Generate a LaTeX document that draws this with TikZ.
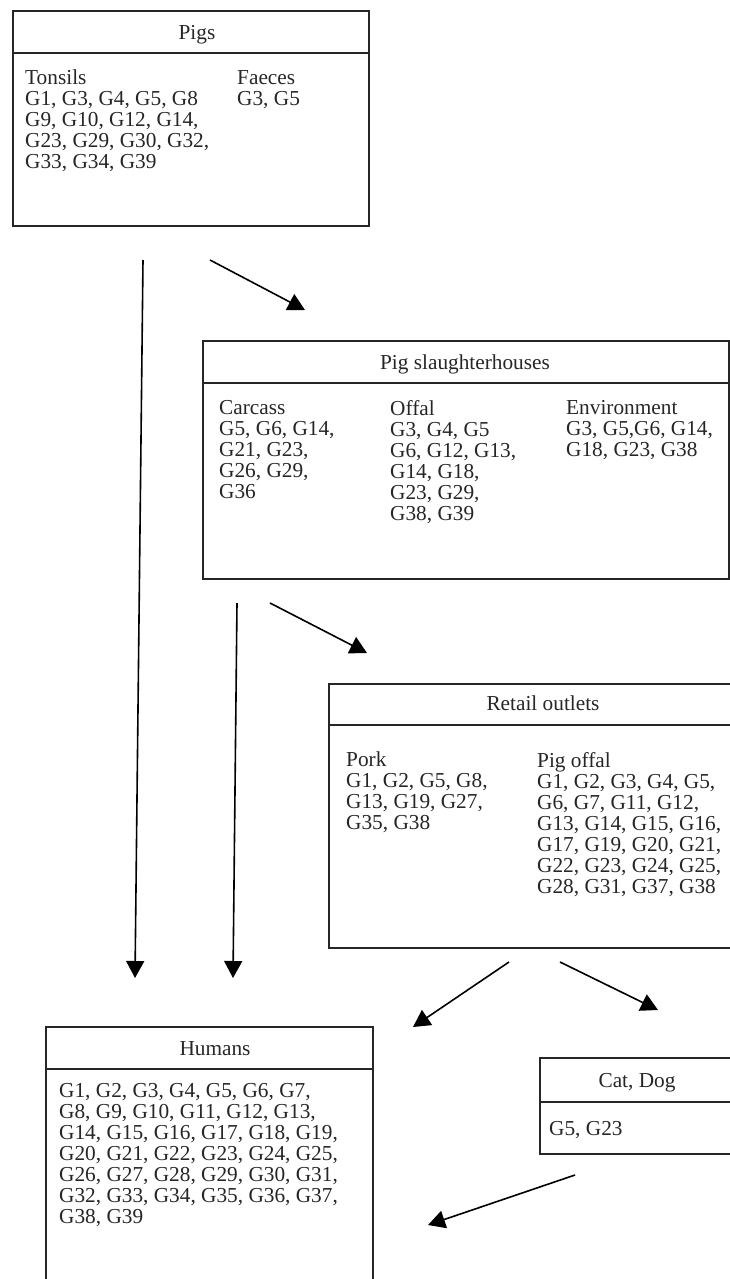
\documentclass[tikz,border=0pt]{standalone}
\usepackage{fontspec}
\setmainfont{Liberation Serif}
\usetikzlibrary{arrows.meta}
\begin{document}
\begin{tikzpicture}[x=1pt,y=-1pt,
  box/.style={draw=black!85, line width=1.7pt, inner sep=0pt, anchor=north west},
  heading/.style={anchor=base, inner sep=0pt, text=black!85, font=\fontsize{21.3}{21}\selectfont},
  list/.style={anchor=north west, inner sep=0pt, align=left, text=black!85, font=\fontsize{21.3}{21}\selectfont},
  flow/.style={draw=black, line width=1.6pt, -{Triangle[length=17pt,width=18pt]}}]
\useasboundingbox (0,0) rectangle (730,1279);
\clip (0,0) rectangle (730,1279);

% boxes
\node[box, minimum width=356pt, minimum height=215pt] (pigs) at (12,10) {};
\node[box, minimum width=526pt, minimum height=238pt] (slaughter) at (202,340) {};
\node[box, minimum width=430pt, minimum height=264pt] (retail) at (328,683) {};
\node[box, minimum width=327pt, minimum height=300pt] (humans) at (45,1026) {};
\node[box, minimum width=200pt, minimum height=96pt] (pets) at (539,1057) {};

% header rules
\foreach \b/\h in {pigs/43, slaughter/43, retail/42, humans/43, pets/45}
  \draw[draw=black!85, line width=1.7pt]
    ([yshift=-\h pt]\b.north west) -- ([yshift=-\h pt]\b.north east);

% headings
\node[heading] (pigsT) at (197,40) {Pigs};
\node[heading] (slaughterT) at (465,369) {Pig slaughterhouses};
\node[heading] (retailT) at (543,710) {Retail outlets};
\node[heading] (humansT) at (215,1055) {Humans};
\node[heading] (petsT) at (637,1087) {Cat, Dog};

% contents
\node[list] (tonsils) at (25,70) {Tonsils\\G1, G3, G4, G5, G8\\G9, G10, G12, G14,\\G23, G29, G30, G32,\\G33, G34, G39};
\node[list] (faeces) at (237,70) {Faeces\\G3, G5};

\node[list] (carcass) at (219,400) {Carcass\\G5, G6, G14,\\G21, G23,\\G26, G29,\\G36};
\node[list] (offal) at (390,400) {Offal\\G3, G4, G5\\G6, G12, G13,\\G14, G18,\\G23, G29,\\G38, G39};
\node[list] (environment) at (566,400) {Environment\\G3, G5,G6, G14,\\G18, G23, G38};

\node[list] (pork) at (346,752) {Pork\\G1, G2, G5, G8,\\G13, G19, G27,\\G35, G38};
\node[list] (pigoffal) at (537,752) {Pig offal\\G1, G2, G3, G4, G5,\\G6, G7, G11, G12,\\G13, G14, G15, G16,\\G17, G19, G20, G21,\\G22, G23, G24, G25,\\G28, G31, G37, G38};

\node[list] (humanlist) at (59,1083) {G1, G2, G3, G4, G5, G6, G7,\\G8, G9, G10, G11, G12, G13,\\G14, G15, G16, G17, G18, G19,\\G20, G21, G22, G23, G24, G25,\\G26, G27, G28, G29, G30, G31,\\G32, G33, G34, G35, G36, G37,\\G38, G39};

\node[list] (petlist) at (549,1121) {G5, G23};

% arrow ends
\coordinate (a1s) at (143,260);  \coordinate (a1e) at (135,978);
\coordinate (a2s) at (210,260);  \coordinate (a2e) at (305,310);
\coordinate (a3s) at (237,603);  \coordinate (a3e) at (233,978);
\coordinate (a4s) at (270,603);  \coordinate (a4e) at (367,653);
\coordinate (a5s) at (509,962);  \coordinate (a5e) at (413,1027);
\coordinate (a6s) at (560,962);  \coordinate (a6e) at (658,1010);
\coordinate (a7s) at (575,1175); \coordinate (a7e) at (428,1225);

% transmission arrows
\draw[flow] (a1s) -- (a1e);
\draw[flow] (a2s) -- (a2e);
\draw[flow] (a3s) -- (a3e);
\draw[flow] (a4s) -- (a4e);
\draw[flow] (a5s) -- (a5e);
\draw[flow] (a6s) -- (a6e);
\draw[flow] (a7s) -- (a7e);
\end{tikzpicture}
\end{document}
